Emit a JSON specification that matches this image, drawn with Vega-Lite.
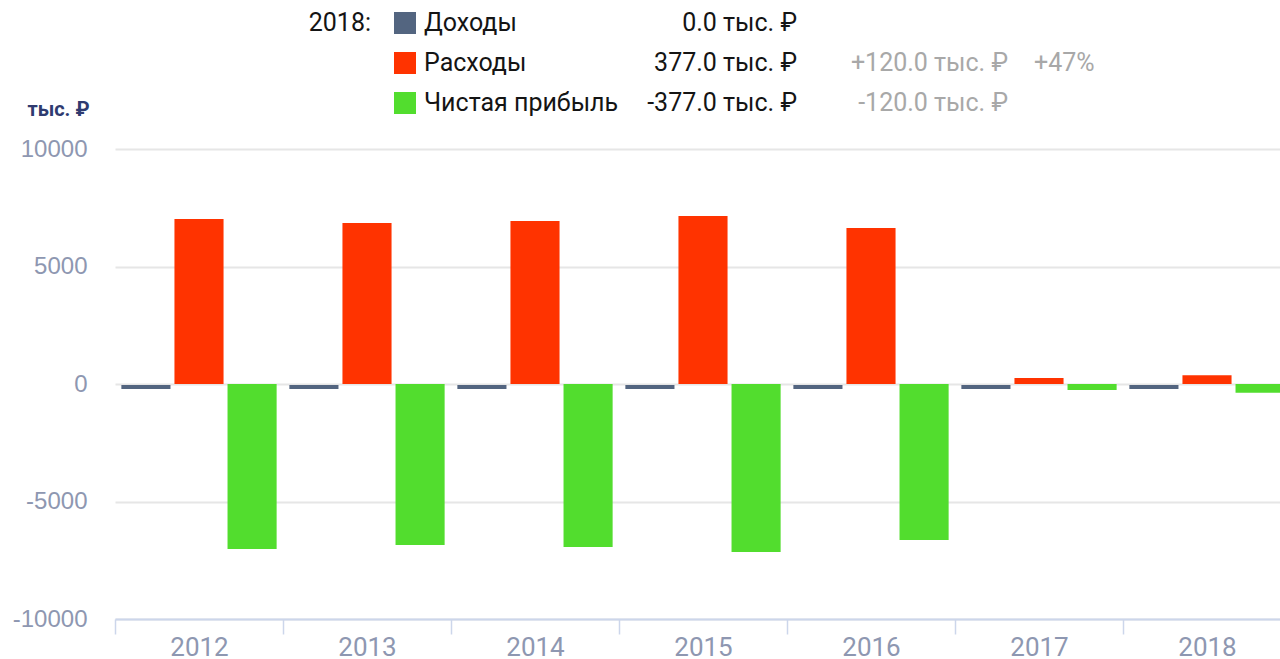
{
  "$schema": "https://vega.github.io/schema/vega-lite/v6.json",
  "padding": {"left": 12, "top": 0, "right": 0, "bottom": 0},
  "bounds": "flush",
  "spacing": 23,
  "config": {"view": {"stroke": null}, "font": "Roboto"},
  "datasets": {
    "main": [
      {"year": "2012", "series": "Доходы", "value": 0},
      {"year": "2012", "series": "Расходы", "value": 7020},
      {"year": "2012", "series": "Чистая прибыль", "value": -7020},
      {"year": "2013", "series": "Доходы", "value": 0},
      {"year": "2013", "series": "Расходы", "value": 6850},
      {"year": "2013", "series": "Чистая прибыль", "value": -6850},
      {"year": "2014", "series": "Доходы", "value": 0},
      {"year": "2014", "series": "Расходы", "value": 6940},
      {"year": "2014", "series": "Чистая прибыль", "value": -6940},
      {"year": "2015", "series": "Доходы", "value": 0},
      {"year": "2015", "series": "Расходы", "value": 7150},
      {"year": "2015", "series": "Чистая прибыль", "value": -7150},
      {"year": "2016", "series": "Доходы", "value": 0},
      {"year": "2016", "series": "Расходы", "value": 6640},
      {"year": "2016", "series": "Чистая прибыль", "value": -6640},
      {"year": "2017", "series": "Доходы", "value": 0},
      {"year": "2017", "series": "Расходы", "value": 257},
      {"year": "2017", "series": "Чистая прибыль", "value": -257},
      {"year": "2018", "series": "Доходы", "value": 0},
      {"year": "2018", "series": "Расходы", "value": 377},
      {"year": "2018", "series": "Чистая прибыль", "value": -377}
    ],
    "legend": [
      {"row": 1, "head": "2018:", "series": "Доходы", "amount": "0.0 тыс. ₽", "delta": "", "pct": ""},
      {"row": 2, "head": "", "series": "Расходы", "amount": "377.0 тыс. ₽", "delta": "+120.0 тыс. ₽", "pct": "+47%"},
      {"row": 3, "head": "", "series": "Чистая прибыль", "amount": "-377.0 тыс. ₽", "delta": "-120.0 тыс. ₽", "pct": ""}
    ]
  },
  "vconcat": [
    {
      "width": 1176,
      "height": 126,
      "data": {"name": "legend"},
      "encoding": {
        "y": {"field": "row", "type": "ordinal", "scale": {"type": "point", "domain": [1, 2, 3], "padding": 0.575}, "axis": null}
      },
      "layer": [
        {
          "mark": {"type": "text", "align": "right", "baseline": "middle", "fontSize": 25, "color": "#141414"},
          "encoding": {"x": {"value": 256}, "text": {"field": "head"}}
        },
        {
          "mark": {"type": "square", "size": 484, "filled": true, "opacity": 1},
          "encoding": {
            "x": {"value": 290},
            "color": {"field": "series", "type": "nominal", "scale": {"domain": ["Доходы", "Расходы", "Чистая прибыль"], "range": ["#536580", "#ff3300", "#52dd2e"]}, "legend": null}
          }
        },
        {
          "mark": {"type": "text", "align": "left", "baseline": "middle", "fontSize": 25, "color": "#141414"},
          "encoding": {"x": {"value": 309}, "text": {"field": "series"}}
        },
        {
          "mark": {"type": "text", "align": "right", "baseline": "middle", "fontSize": 25, "color": "#141414"},
          "encoding": {"x": {"value": 682}, "text": {"field": "amount"}}
        },
        {
          "mark": {"type": "text", "align": "right", "baseline": "middle", "fontSize": 25, "color": "#a8a8a8"},
          "encoding": {"x": {"value": 893}, "text": {"field": "delta"}}
        },
        {
          "mark": {"type": "text", "align": "left", "baseline": "middle", "fontSize": 25, "color": "#a8a8a8"},
          "encoding": {"x": {"value": 919}, "text": {"field": "pct"}}
        }
      ]
    },
    {
      "width": 1176,
      "height": 470,
      "data": {"name": "main"},
      "encoding": {
        "x": {
          "field": "year", "type": "nominal",
          "scale": {"paddingInner": 0, "paddingOuter": 0},
          "axis": {
            "title": null, "labelAngle": 0, "labelFontSize": 26, "labelColor": "#8e97b1",
            "labelFont": "Roboto", "tickBand": "extent", "tickSize": 15,
            "tickColor": "#ccd6eb", "tickWidth": 1.5, "domainColor": "#ccd6eb", "domainWidth": 2,
            "labelBaseline": "alphabetic", "labelPadding": 21, "grid": false
          }
        },
        "xOffset": {
          "field": "series", "type": "nominal",
          "scale": {"domain": ["Доходы", "Расходы", "Чистая прибыль"], "paddingInner": 0.075, "paddingOuter": 0.12}
        },
        "y": {
          "field": "value", "type": "quantitative",
          "scale": {"domain": [-10000, 10000], "nice": false},
          "axis": {
            "title": "тыс. ₽", "titleAngle": 0, "titleAlign": "right", "titleBaseline": "alphabetic",
            "titleX": -26, "titleY": -34, "titleFont": "Roboto", "titleFontSize": 20,
            "titleFontWeight": "bold", "titleColor": "#2f3b70",
            "values": [-10000, -5000, 0, 5000, 10000],
            "labelExpr": "'' + datum.value",
            "labelFont": "Liberation Sans", "labelFontSize": 24, "labelColor": "#8e97b1",
            "labelPadding": 28, "ticks": false, "domain": false,
            "gridColor": "#e6e6e6", "gridWidth": 2
          }
        },
        "y2": {"datum": 0},
        "color": {
          "field": "series", "type": "nominal",
          "scale": {"domain": ["Доходы", "Расходы", "Чистая прибыль"], "range": ["#536580", "#ff3300", "#52dd2e"]},
          "legend": null
        }
      },
      "layer": [
        {
          "transform": [{"filter": "datum.series !== 'Доходы'"}],
          "mark": {"type": "bar"}
        },
        {
          "transform": [{"filter": "datum.series === 'Доходы'"}],
          "mark": {"type": "bar", "yOffset": 1, "y2Offset": 5}
        }
      ]
    }
  ]
}
